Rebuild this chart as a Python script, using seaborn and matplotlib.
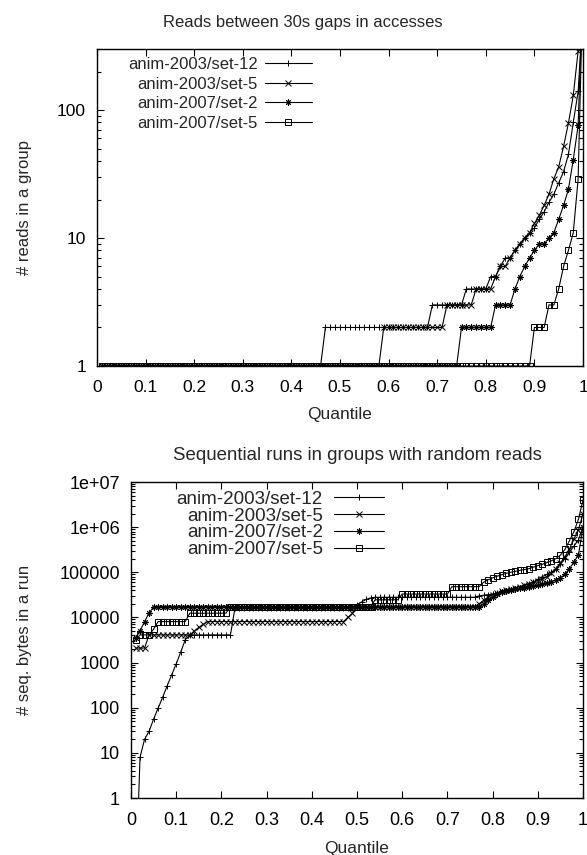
import numpy as np
import pandas as pd
import matplotlib
matplotlib.use("Agg")
import matplotlib.pyplot as plt
import seaborn as sns
from matplotlib.ticker import FixedLocator, LogLocator, NullFormatter

# Series names and gnuplot-like point types
series_names = ['anim-2003/set-12', 'anim-2003/set-5', 'anim-2007/set-2', 'anim-2007/set-5']
markers = ['+', 'x', (8, 2, 0), 's']

# Quantile positions (100 steps)
quantiles = np.arange(1, 101) / 100

# --- top plot: reads between 30s gaps (run-length levels + counts) ---
reads_set12_lv = [1, 2, 3, 4, 5, 5, 6, 7, 7, 8, 9, 10, 11, 12, 14, 16, 19, 22, 27, 33, 45, 80, 140, 600]
reads_set12_ct = [46, 22, 7, 5] + [1] * 20
reads_2003s5_lv = [1, 2, 3, 4, 5, 6, 6, 7, 8, 9, 10, 11, 13, 15, 18, 22, 29, 36, 52, 79, 130, 290, 1000]
reads_2003s5_ct = [58, 13, 6, 4] + [1] * 19
reads_2007s2_lv = [1, 2, 3, 4, 5, 6, 7, 8, 9, 9, 10, 11, 14, 18, 24, 41, 76, 1000]
reads_2007s2_ct = [74, 7, 4] + [1] * 15
reads_2007s5_lv = [1, 2, 3, 4, 6, 8, 11, 29, 1000]
reads_2007s5_ct = [89, 3, 2] + [1] * 6

# --- bottom plot: sequential bytes in a run ---
seq_set12_lv = [0.01, 8, 20, 30, 56, 98, 170, 305, 535, 935, 1700, 3200, 4100, 16000,
                19000, 22000, 25000, 27000, 28000,
                30000, 31000, 32000, 33000, 34000, 36000, 38000, 40000, 42000, 45000, 50000,
                55000, 60000, 70000, 80000, 90000, 100000, 120000, 150000, 200000, 280000,
                380000, 525000, 1000000]
seq_set12_ct = [1] * 12 + [10, 27] + [1] * 4 + [23] + [1] * 24
seq_2003s5_lv = [2100, 4100, 5000, 6000, 7000, 8100, 10000, 12400, 17400,
                 20000, 24000, 28000, 32000, 35000, 38000, 40000, 42000, 45000, 48000, 52000,
                 56000, 60000, 65000, 70000, 80000, 95000, 120000, 160000, 220000, 330000,
                 550000, 880000, 2000000]
seq_2003s5_ct = [3, 10, 1, 1, 1, 31, 1, 1, 27] + [1] * 24
seq_2007s2_lv = [3500, 5000, 8100, 12400, 17400,
                 20000, 24000, 29000, 33000, 36000, 38000, 40000, 42000, 44000, 46000, 48000,
                 50000, 52000, 55000, 58000, 62000, 68000, 75000, 90000, 120000, 170000, 245000,
                 1000000]
seq_2007s2_ct = [1, 1, 1, 1, 73] + [1] * 23
seq_2007s5_lv = [3200, 4100, 5500, 8100, 12400, 17400, 24600, 33000, 48000,
                 60000, 68000, 75000, 82000, 88000, 95000, 100000, 105000, 110000, 115000,
                 120000, 130000, 140000, 150000, 165000, 180000, 200000, 240000, 320000, 500000,
                 800000, 1500000, 4000000]
seq_2007s5_ct = [1, 3, 1, 7, 9, 32, 6, 11, 7] + [1] * 23

top_series = [(reads_set12_lv, reads_set12_ct), (reads_2003s5_lv, reads_2003s5_ct),
              (reads_2007s2_lv, reads_2007s2_ct), (reads_2007s5_lv, reads_2007s5_ct)]
bot_series = [(seq_set12_lv, seq_set12_ct), (seq_2003s5_lv, seq_2003s5_ct),
              (seq_2007s2_lv, seq_2007s2_ct), (seq_2007s5_lv, seq_2007s5_ct)]

x_ticks = [0, 0.1, 0.2, 0.3, 0.4, 0.5, 0.6, 0.7, 0.8, 0.9, 1]
x_labels = ['0', '0.1', '0.2', '0.3', '0.4', '0.5', '0.6', '0.7', '0.8', '0.9', '1']
top_yticks = [1, 10, 100]
top_ylabels = ['1', '10', '100']
bot_yticks = [1, 10, 100, 1000, 10000, 100000, 1e6, 1e7]
bot_ylabels = ['1', '10', '100', '1000', '10000', '100000', '1e+06', '1e+07']

sns.set_theme(style="ticks")
plt.rcParams['font.family'] = ['Liberation Sans', 'DejaVu Sans']
plt.rcParams['axes.linewidth'] = 1.0

fig = plt.figure(figsize=(5.87, 8.55), dpi=100)
ax1 = fig.add_axes([97 / 587, 1 - 366 / 855, 486 / 587, 317 / 855])
ax2 = fig.add_axes([131 / 587, 1 - 798 / 855, 452 / 587, 316 / 855])


def draw(ax, series):
    for name, mk, (lv, ct) in zip(series_names, markers, series):
        vals = np.repeat(lv, ct)
        df = pd.DataFrame({'q': quantiles, 'v': vals})
        sns.lineplot(data=df, x='q', y='v', ax=ax, color='black', linewidth=0.8,
                     marker=mk, markersize=4.5, markeredgewidth=0.7,
                     markerfacecolor='none', markeredgecolor='black', label=name)


def style(ax, yticks, ylabels, ylim, title, title_x, title_fs, ylabel, ylab_x,
          tick_fs, leg_anchor, leg_fs, leg_sp, leg_hl, leg_pad):
    ax.set_yscale('log')
    ax.set_xlim(0, 1)
    ax.set_ylim(*ylim)
    ax.set_xticks(x_ticks)
    ax.set_xticklabels(x_labels)
    ax.yaxis.set_major_locator(FixedLocator(yticks))
    ax.set_yticklabels(ylabels)
    ax.yaxis.set_minor_locator(LogLocator(base=10, subs=np.arange(2, 10), numticks=20))
    ax.yaxis.set_minor_formatter(NullFormatter())
    ax.tick_params(axis='both', which='both', direction='in', top=True, right=True,
                   colors='black', labelsize=tick_fs, width=0.8)
    ax.tick_params(axis='both', which='major', length=5)
    ax.tick_params(axis='x', which='major', pad=10)
    ax.tick_params(axis='y', which='major', pad=8)
    ax.tick_params(axis='y', which='minor', length=3)
    ax.set_title(title, fontsize=title_fs, pad=16, x=title_x)
    ax.set_xlabel('Quantile', fontsize=12.5, labelpad=9)
    ax.set_ylabel(ylabel, fontsize=12)
    ax.yaxis.set_label_coords(ylab_x, 0.5)
    for sp in ax.spines.values():
        sp.set_color('black')
    leg = ax.legend(loc='upper left', bbox_to_anchor=leg_anchor, frameon=False,
                    markerfirst=False, handlelength=leg_hl, handletextpad=leg_pad,
                    labelspacing=leg_sp, borderpad=0, borderaxespad=0, fontsize=leg_fs)
    for col in leg._legend_handle_box.get_children():
        col.align = 'right'


draw(ax1, top_series)
style(ax1, top_yticks, top_ylabels, (1, 300), 'Reads between 30s gaps in accesses', 0.424, 12,
      '# reads in a group', -0.134, 12.5, (0.064, 0.975), 12, 0.28, 2.8, 0.42)
draw(ax2, bot_series)
style(ax2, bot_yticks, bot_ylabels, (1, 1e7), 'Sequential runs in groups with random reads', 0.5, 13.4,
      '# seq. bytes in a run', -0.219, 13, (0.101, 0.972), 13.5, -0.02, 2.67, 0.59)

fig.savefig('out.png', dpi=100)
